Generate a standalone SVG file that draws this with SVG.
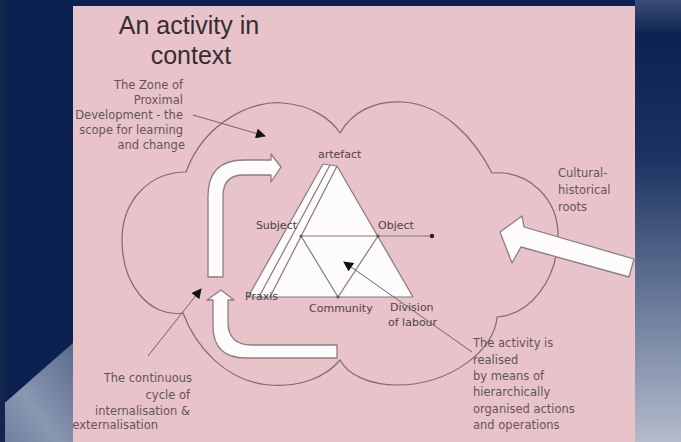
<svg xmlns="http://www.w3.org/2000/svg" width="681" height="442" viewBox="0 0 681 442">
<defs>
<style>
.lbl{font-family:"DejaVu Sans","Liberation Sans",sans-serif;font-size:11.5px;fill:#62555a}
.tl{font-family:"DejaVu Sans","Liberation Sans",sans-serif;font-size:11px;fill:#4e4246}
.title{font-family:"Liberation Sans","DejaVu Sans",sans-serif;font-size:25px;fill:#352d30;text-anchor:middle}
.edge{stroke:#7a6e72;stroke-width:1.2;fill:none}
.tri{stroke:#85797d;stroke-width:1.2;fill:none}
.band{fill:#fdfbfb;stroke:#8a7e82;stroke-width:1.3;stroke-linejoin:round}
.ptr{stroke:#6e6468;stroke-width:1;fill:none}
</style>
<linearGradient id="rg" x1="0" y1="0" x2="0" y2="1">
<stop offset="0" stop-color="#3a4e78"/>
<stop offset="0.08" stop-color="#0c2250"/>
<stop offset="0.35" stop-color="#1b3260"/>
<stop offset="0.7" stop-color="#6d7d9c"/>
<stop offset="1" stop-color="#b4bccc"/>
</linearGradient>
<linearGradient id="lg" x1="1" y1="0" x2="0" y2="1">
<stop offset="0" stop-color="#5a6a8c"/>
<stop offset="0.6" stop-color="#8a97b2"/>
<stop offset="1" stop-color="#6e7d9c"/>
</linearGradient>
<clipPath id="sc"><rect x="73" y="6" width="562" height="436"/></clipPath>
<marker id="ah" viewBox="0 0 10 10" refX="9" refY="5" markerWidth="11" markerHeight="10" markerUnits="userSpaceOnUse" orient="auto">
<path d="M0,0 L10,5 L0,10 Z" fill="#111"/>
</marker>
</defs>

<g id="background">
<rect x="0" y="0" width="681" height="442" fill="#0b2150"/>
<rect x="635" y="0" width="46" height="442" fill="url(#rg)"/>
<polygon points="0,407 73,343 73,442 0,442" fill="url(#lg)"/>
<rect x="0" y="0" width="5" height="442" fill="#13254d"/>
</g>

<g id="slide">
<rect x="73" y="6" width="562" height="436" fill="#e8c3c9"/>
</g>

<g clip-path="url(#sc)">
<g id="title">
<text class="title" x="189" y="34">An activity in</text>
<text class="title" x="191" y="64">context</text>
</g>

<g id="cloud">
<path class="edge" d="M186,172 C205,120 255,100 283,103 C310,105 330,118 340,133 C352,112 375,100 403,102 C445,105 475,140 492,173 C530,170 558,200 558,235 C558,280 530,315 497,317 C495,350 450,385 397,385 C370,385 348,375 340,360 C325,378 300,387 270,385 C225,382 195,345 183,313 C150,318 122,285 122,240 C122,200 150,172 186,172 Z"/>
</g>

<g id="arrow-upper">
<path class="band" d="M208,277 L208,196 Q208,160 244,160 L271,160 L271,154 L281,167 L271,182 L271,175 L244,175 Q223,175 223,196 L223,277 Z"/>
</g>

<g id="arrow-lower">
<path class="band" d="M213,300 L213,326 Q213,358 246,358 L337,358 L337,345 L252,345 Q228,345 228,322 L228,300 L234,300 L221,290 L207,300 Z"/>
</g>

<g id="arrow-roots">
<path class="band" d="M500,232 L522,216 L524,227 L634,259 L629,277 L521,247 L512,263 Z"/>
</g>

<g id="triangle">
<polygon points="323,164 337,166 413,297 248,297" fill="#fdfbfb"/>
<line class="tri" x1="323" y1="164" x2="248" y2="297"/>
<line class="tri" x1="330" y1="165" x2="259" y2="297"/>
<line class="tri" x1="337" y1="166" x2="270" y2="297"/>
<line class="tri" x1="323" y1="164" x2="337" y2="166"/>
<line class="tri" x1="337" y1="166" x2="413" y2="297"/>
<line class="tri" x1="248" y1="297" x2="413" y2="297"/>
<line class="tri" x1="301" y1="236" x2="432" y2="236"/>
<line class="tri" x1="301" y1="236" x2="338" y2="297"/>
<line class="tri" x1="378" y1="236" x2="338" y2="297"/>
<circle cx="301" cy="236" r="1.5" fill="#5a5054"/>
<circle cx="378" cy="236" r="1.5" fill="#5a5054"/>
<circle cx="338" cy="297" r="1.5" fill="#5a5054"/>
<circle cx="432" cy="236" r="2.2" fill="#222"/>
<text class="tl" x="318" y="158">artefact</text>
<text class="tl" x="297" y="229" text-anchor="end">Subject</text>
<text class="tl" x="378" y="229">Object</text>
<text class="tl" x="309" y="312">Community</text>
<text class="tl" x="390" y="311">Division</text>
<text class="tl" x="388" y="326">of labour</text>
<text class="tl" x="245" y="300">Praxis</text>
</g>

<g id="connectors">
<line class="ptr" x1="193" y1="115" x2="265" y2="136" marker-end="url(#ah)"/>
<line class="ptr" x1="148" y1="356" x2="201" y2="289" marker-end="url(#ah)"/>
<line class="ptr" x1="472" y1="352" x2="344" y2="262" marker-end="url(#ah)"/>
</g>

<g id="zpd-label" text-anchor="end">
<text class="lbl" x="183" y="89">The Zone of</text>
<text class="lbl" x="183" y="104">Proximal</text>
<text class="lbl" x="183" y="119">Development - the</text>
<text class="lbl" x="183" y="134">scope for learning</text>
<text class="lbl" x="185" y="149">and change</text>
</g>

<g id="cultural-label">
<text class="lbl" x="558" y="177">Cultural-</text>
<text class="lbl" x="558" y="194">historical</text>
<text class="lbl" x="558" y="211">roots</text>
</g>

<g id="cycle-label" text-anchor="end">
<text class="lbl" x="192" y="382">The continuous</text>
<text class="lbl" x="190" y="399">cycle of</text>
<text class="lbl" x="190" y="415">internalisation &amp;</text>
<text class="lbl" x="158" y="429">externalisation</text>
</g>

<g id="activity-label">
<text class="lbl" x="473" y="347">The activity is</text>
<text class="lbl" x="473" y="364">realised</text>
<text class="lbl" x="473" y="380">by means of</text>
<text class="lbl" x="473" y="396">hierarchically</text>
<text class="lbl" x="473" y="413">organised actions</text>
<text class="lbl" x="473" y="429">and operations</text>
</g>
</g>
</svg>
